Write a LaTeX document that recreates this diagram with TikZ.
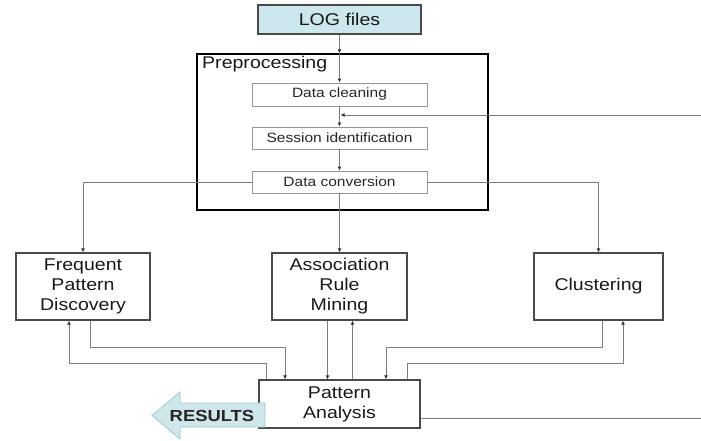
\documentclass[tikz,border=0pt]{standalone}
\usepackage{fontspec}
\setmainfont{Liberation Sans}[FakeStretch=1.15]
\usetikzlibrary{positioning,calc,arrows.meta}

\definecolor{logblue}{HTML}{CDE7EE}
\definecolor{resblue}{HTML}{CFE6EA}
\definecolor{resedge}{HTML}{9EC9D2}
\definecolor{linegray}{HTML}{7C7C7C}
\definecolor{boxgray}{HTML}{4A4A4A}

\tikzset{
  bigbox/.style={draw=boxgray, line width=1.3pt, inner sep=0pt, align=center, text=black!90, font=\fontsize{17}{20}\selectfont},
  stepbox/.style={draw=linegray!80, line width=0.9pt, inner sep=0pt, minimum width=175pt, minimum height=22pt, text=black!85, font=\fontsize{13.5}{16}\selectfont},
  arr/.style={draw=linegray, line width=0.9pt, -{Latex[length=4pt,width=4pt,color=black!80]}},
}

\begin{document}
\begin{tikzpicture}[x=1pt, y=-1pt]
    \useasboundingbox (0,0) rectangle (701,441);

    % input and preprocessing
    \node[bigbox, fill=logblue, minimum width=163pt, minimum height=29pt] (log) at (339.5,19.5) {LOG files};
    \node[draw=black, line width=1.4pt, minimum width=291pt, minimum height=156pt, inner sep=0pt] (prep) at (342.5,132) {};
    \node[anchor=base west, inner sep=0pt, text=black!90, font=\fontsize{17}{20}\selectfont] (preplabel) at (202,69) {Preprocessing};
    \node[stepbox, minimum height=23pt] (clean) at (339.5,94.5) {Data cleaning};
    \node[stepbox] (sess) at (339.5,138) {Session identification};
    \node[stepbox] (conv) at (339.5,182) {Data conversion};

    % mining
    \node[bigbox, minimum width=134pt, minimum height=67pt] (fpd) at (83,286.5) {Frequent\\Pattern\\Discovery};
    \node[bigbox, minimum width=135pt, minimum height=67pt] (arm) at (339.5,286.5) {Association\\Rule\\Mining};
    \node[bigbox, minimum width=129pt, minimum height=67pt] (clus) at (598.5,286.5) {Clustering};
    \node[bigbox, minimum width=161pt, minimum height=48pt] (pa) at (339.5,404) {Pattern\\Analysis};

    % feedback runs just past the right edge
    \coordinate (fb) at (704,115);

    \draw[arr] (log) -- (log |- prep.north);
    \draw[arr] (log |- prep.north) -- (clean);
    \draw[arr] (clean) -- (sess);
    \draw[arr] (sess) -- (conv);
    \draw[arr] (conv) -- (arm);
    \draw[arr] (conv.west) -| (fpd.north);
    \draw[arr] (conv.east) -| (clus.north);

    \draw[arr] ([xshift=7pt]fpd.south) -- ++(0,27) -| ([xshift=-54.5pt]pa.north);
    \draw[arr] ([xshift=-73.5pt]pa.north) -- ++(0,-16) -| ([xshift=-14pt]fpd.south);
    \draw[arr] ([xshift=-12pt]arm.south) -- ([xshift=-12pt]arm.south |- pa.north);
    \draw[arr] ([xshift=13pt]pa.north) -- ([xshift=13pt]pa.north |- arm.south);
    \draw[arr] ([xshift=3.5pt]clus.south) -- ++(0,27) -| ([xshift=46.5pt]pa.north);
    \draw[arr] ([xshift=67.5pt]pa.north) -- ++(0,-16) -| ([xshift=24.5pt]clus.south);

    \draw[arr] ([yshift=-14pt]pa.east) -| (fb) -- ([xshift=1pt]clean.south |- fb);

    % results arrow
    \draw[draw=resedge, fill=resblue, line width=0.8pt] (265,403) -- (180,403) -- (180,392) -- (152,415.5) -- (180,439) -- (180,427) -- (265,427) -- cycle;
    \node[inner sep=0pt, text=black!85, font=\bfseries\fontsize{16}{18}\selectfont] (results) at (212,416) {RESULTS};
\end{tikzpicture}
\end{document}
